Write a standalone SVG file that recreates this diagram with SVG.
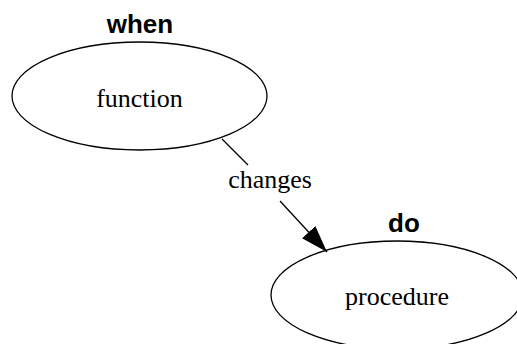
<svg xmlns="http://www.w3.org/2000/svg" width="517" height="344" viewBox="0 0 517 344">
  <style>
    .node { fill: none; stroke: #000; stroke-width: 1.3; }
    .label { font-family: "Liberation Serif", serif; font-size: 26px; text-anchor: middle; fill: #000; }
    .head { font-family: "Liberation Sans", sans-serif; font-size: 26px; font-weight: bold; text-anchor: middle; fill: #000; }
    .edge { fill: none; stroke: #000; stroke-width: 1.3; }
  </style>
  <defs>
    <marker id="arrow" markerUnits="userSpaceOnUse" markerWidth="30" markerHeight="30" refX="27" refY="9" orient="auto">
      <path d="M0,0 L27,9 L0,18 Z" fill="#000"/>
    </marker>
  </defs>
  <rect width="517" height="344" fill="#fff"/>
  <g id="connectors">
    <line class="edge" x1="222" y1="139" x2="248" y2="165"/>
    <line class="edge" x1="280" y1="201" x2="327" y2="252" marker-end="url(#arrow)"/>
    <text class="label" x="270" y="188">changes</text>
  </g>
  <g id="when">
    <text class="head" x="140" y="33">when</text>
    <ellipse class="node" cx="139.5" cy="96" rx="127.5" ry="54"/>
    <text class="label" x="139.5" y="107">function</text>
  </g>
  <g id="do">
    <text class="head" x="404" y="232">do</text>
    <ellipse class="node" cx="397" cy="295" rx="126" ry="54"/>
    <text class="label" x="397" y="305">procedure</text>
  </g>
</svg>
